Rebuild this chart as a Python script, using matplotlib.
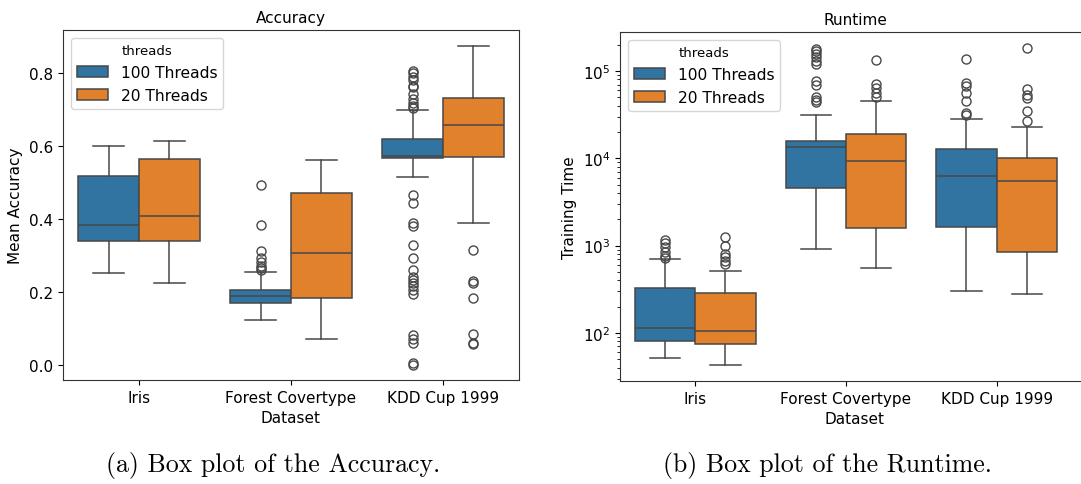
import matplotlib
matplotlib.use("Agg")
import matplotlib.pyplot as plt
from matplotlib.patches import Patch

# categories and hue levels
datasets = ["Iris", "Forest Covertype", "KDD Cup 1999"]
threads = ["100 Threads", "20 Threads"]

# accuracy summary per thread setting (rows: 100 threads, 20 threads)
acc_whislo = [[0.252, 0.122, 0.515], [0.224, 0.071, 0.387]]
acc_q1 = [[0.340, 0.169, 0.565], [0.340, 0.182, 0.570]]
acc_med = [[0.384, 0.187, 0.571], [0.408, 0.306, 0.656]]
acc_q3 = [[0.517, 0.204, 0.619], [0.564, 0.470, 0.731]]
acc_whishi = [[0.599, 0.254, 0.698], [0.612, 0.560, 0.872]]
acc_fliers = [
    [
        [],
        [0.492, 0.384, 0.312, 0.291, 0.280, 0.271, 0.264, 0.259],
        [0.806, 0.798, 0.789, 0.780, 0.764, 0.760, 0.742, 0.727, 0.718,
         0.710, 0.704, 0.465, 0.442, 0.388, 0.380, 0.329, 0.292, 0.260,
         0.239, 0.233, 0.223, 0.215, 0.205, 0.193, 0.081, 0.070, 0.059,
         0.004, 0.000],
    ],
    [
        [],
        [],
        [0.315, 0.229, 0.223, 0.182, 0.085, 0.059, 0.056],
    ],
]

# training time summary (log scale)
rt_whislo = [[52, 912, 298], [43, 552, 278]]
rt_q1 = [[81, 4580, 1618], [74, 1592, 836]]
rt_med = [[115, 13650, 6340], [104, 9420, 5560]]
rt_q3 = [[331, 15850, 12830], [285, 19100, 10110]]
rt_whishi = [[708, 30990, 27860], [515, 44900, 22750]]
rt_fliers = [
    [
        [1159, 1061, 955, 836, 766, 726],
        [180000, 168000, 158000, 145000, 132000, 121000, 76000, 69600,
         50300, 46900, 44100],
        [138600, 73500, 67300, 55900, 45300, 33300, 31000],
    ],
    [
        [1265, 998, 800, 733, 671, 614],
        [133700, 71600, 63800, 56400, 50300],
        [183800, 62700, 52600, 48900, 35300, 26700],
    ],
]

colors = ["#3274a1", "#e1812c"]
line_gray = "#484848"
plt.rcParams["font.family"] = "DejaVu Sans"
plt.rcParams["axes.edgecolor"] = "#333333"


def draw_boxes(ax, whislo, q1, med, q3, whishi, fliers):
    for h in range(len(threads)):
        stats = []
        for i in range(len(datasets)):
            stats.append(dict(whislo=whislo[h][i], q1=q1[h][i], med=med[h][i],
                              q3=q3[h][i], whishi=whishi[h][i],
                              fliers=fliers[h][i]))
        pos = [i - 0.2 + 0.4 * h for i in range(len(datasets))]
        ax.bxp(
            stats, positions=pos, widths=0.4, capwidths=0.2,
            patch_artist=True, manage_ticks=False,
            boxprops=dict(facecolor=colors[h], edgecolor=line_gray, linewidth=1.1),
            medianprops=dict(color=line_gray, linewidth=1.1),
            whiskerprops=dict(color=line_gray, linewidth=1.1),
            capprops=dict(color=line_gray, linewidth=1.1),
            flierprops=dict(marker="o", markerfacecolor="none",
                            markeredgecolor=line_gray, markersize=6.5,
                            markeredgewidth=1.0),
        )
    ax.set_xticks(range(len(datasets)))
    ax.set_xticklabels(datasets)
    ax.tick_params(labelsize=11)
    ax.set_xlabel("Dataset", fontsize=11)
    handles = [Patch(facecolor=c, edgecolor=line_gray, linewidth=1.1) for c in colors]
    ax.legend(handles, threads, title="threads", loc="upper left",
              fontsize=11.2, title_fontsize=9.5)


fig = plt.figure(figsize=(10.81, 4.85), dpi=100)
W, H = 1081, 485

ax1 = fig.add_axes([63 / W, 1 - 381 / H, 456 / W, 350 / H])
draw_boxes(ax1, acc_whislo, acc_q1, acc_med, acc_q3, acc_whishi, acc_fliers)
ax1.set_xlim(-0.5, 2.5)
ax1.set_ylim(-0.042, 0.917)
ax1.set_yticks([0.0, 0.2, 0.4, 0.6, 0.8])
ax1.set_ylabel("Mean Accuracy", fontsize=11)
ax1.set_title("Accuracy", fontsize=11)

ax2 = fig.add_axes([620 / W, 1 - 382 / H, 470 / W, 349 / H])
ax2.set_yscale("log")
draw_boxes(ax2, rt_whislo, rt_q1, rt_med, rt_q3, rt_whishi, rt_fliers)
ax2.set_xlim(-0.5, 2.62)
ax2.set_ylim(28.1, 2.8e5)
ax2.set_ylabel("Training Time", fontsize=11)
ax2.set_title("Runtime", fontsize=11)

# subfigure captions
fig.text(273 / W, 1 - 466 / H, "(a) Box plot of the Accuracy.",
         family="cmr10", fontsize=18.6, ha="center", va="center")
fig.text(827 / W, 1 - 466 / H, "(b) Box plot of the Runtime.",
         family="cmr10", fontsize=18.6, ha="center", va="center")

fig.savefig("out.png", dpi=100)
